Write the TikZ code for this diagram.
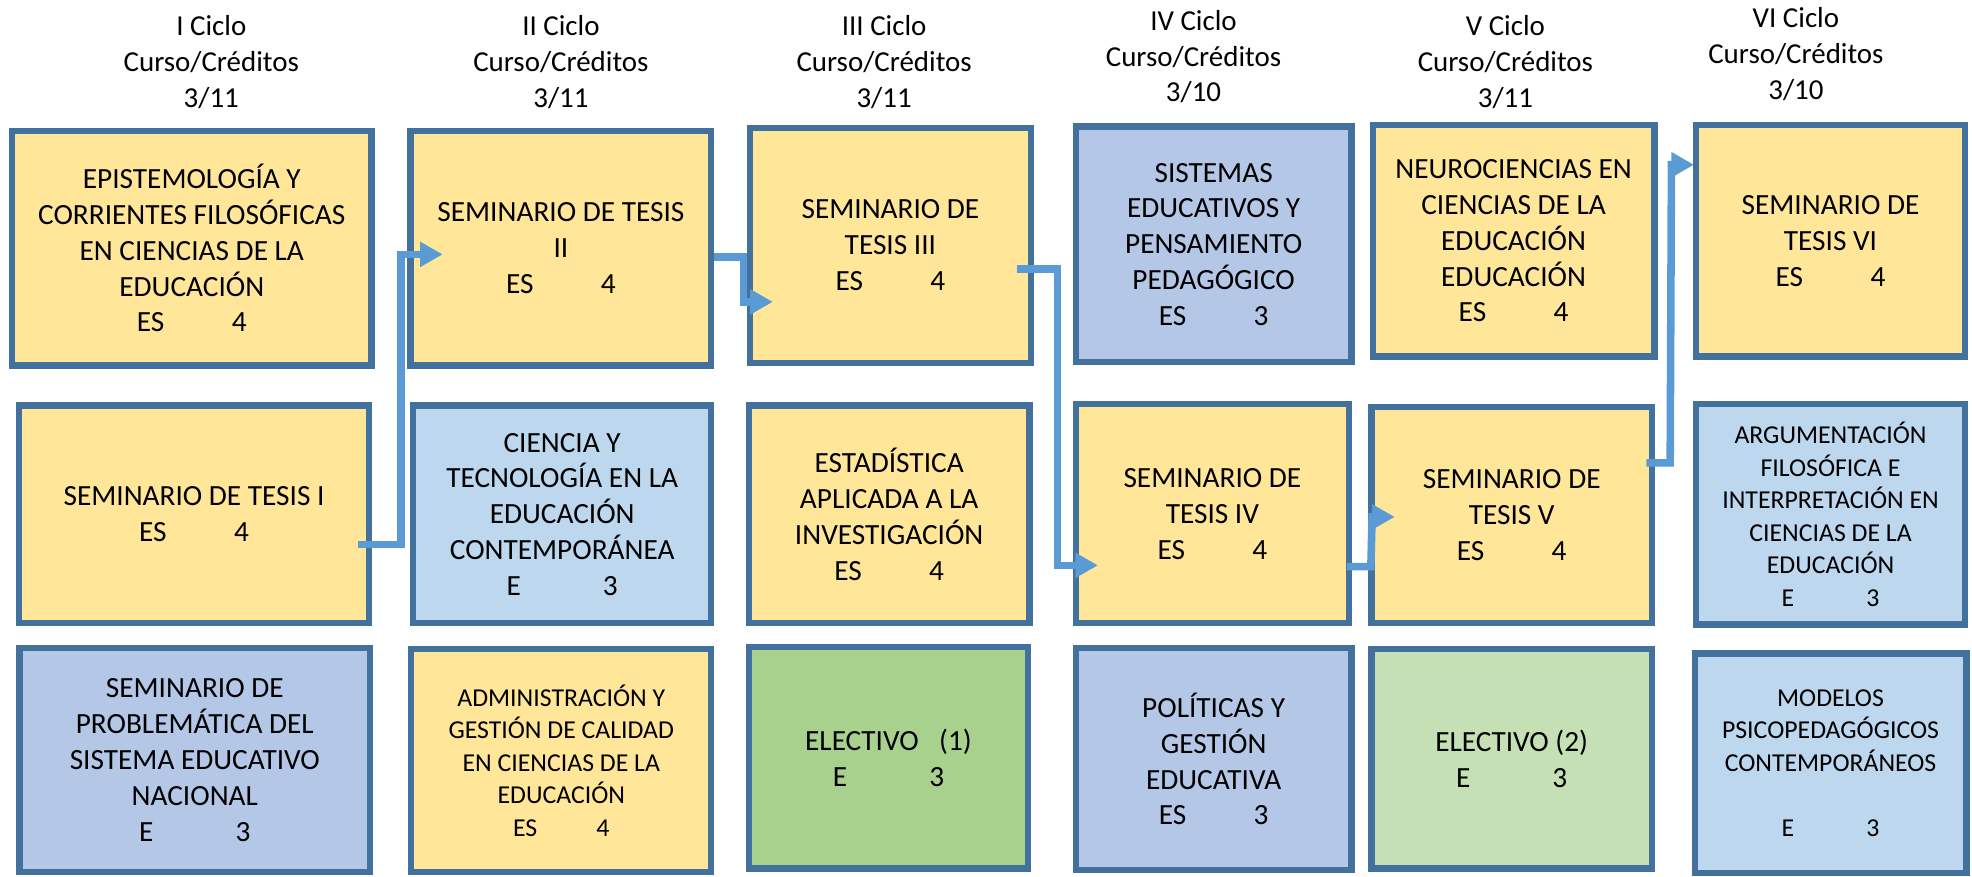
\documentclass[tikz,border=0pt]{standalone}
\usepackage{fontspec}
\setmainfont{Carlito}
\usetikzlibrary{arrows.meta}

\definecolor{borde}{HTML}{41719C}
\definecolor{amarillo}{HTML}{FFE699}
\definecolor{lavanda}{HTML}{B4C7E7}
\definecolor{celeste}{HTML}{BDD7EE}
\definecolor{verde}{HTML}{A9D18E}
\definecolor{verdeclaro}{HTML}{C5E0B4}
\definecolor{azulflecha}{HTML}{5B9BD5}

\tikzset{
  curso/.style={draw=borde, line width=5pt, rectangle, align=center, inner sep=0pt,
    font=\fontsize{23.3}{28.5}\selectfont},
  chico/.style={font=\fontsize{20.5}{25.8}\selectfont},
  tam/.style 2 args={minimum width=#1pt, minimum height=#2pt},
  ciclo/.style={align=center, font=\fontsize{23}{28.5}\selectfont},
  flecha/.style={draw=azulflecha, line width=6pt, -{Triangle[length=18pt,width=19pt]}},
}

\begin{document}
\begin{tikzpicture}[x=1pt,y=-1pt]
  \useasboundingbox (0,0) rectangle (1568,697);

  % Cycle headers
  \node[ciclo] (cicloI) at (168,49.5) {I Ciclo\\Curso/Créditos\\3/11};
  \node[ciclo] (cicloII) at (446,49.5) {II Ciclo\\Curso/Créditos\\3/11};
  \node[ciclo] (cicloIII) at (703,49.5) {III Ciclo\\Curso/Créditos\\3/11};
  \node[ciclo] (cicloIV) at (949,45) {IV Ciclo\\Curso/Créditos\\3/10};
  \node[ciclo] (cicloV) at (1197,49.5) {V Ciclo\\Curso/Créditos\\3/11};
  \node[ciclo] (cicloVI) at (1428,43) {VI Ciclo\\Curso/Créditos\\3/10};

  % Define nodes
  \node[curso, fill=amarillo, tam={286}{186.5}] (epist) at (152.5,197.25)
    {EPISTEMOLOGÍA Y\\CORRIENTES FILOSÓFICAS\\EN CIENCIAS DE LA\\EDUCACIÓN\\ES\hspace{2.3em}4};
  \node[curso, fill=amarillo, tam={278}{173}] (semI) at (154.3,409)
    {SEMINARIO DE TESIS I\\ES\hspace{2.3em}4};
  \node[curso, fill=lavanda, tam={279}{178}] (problem) at (154.9,604.5)
    {SEMINARIO DE\\PROBLEMÁTICA DEL\\SISTEMA EDUCATIVO\\NACIONAL\\E\hspace{2.8em}3};

  \node[curso, fill=amarillo, tam={239}{186.5}] (semII) at (446,197.25)
    {SEMINARIO DE TESIS\\II\\ES\hspace{2.3em}4};
  \node[curso, fill=celeste, tam={237}{173}] (ciencia) at (447,409)
    {CIENCIA Y\\TECNOLOGÍA EN LA\\EDUCACIÓN\\CONTEMPORÁNEA\\E\hspace{2.8em}3};
  \node[curso, chico, fill=amarillo, tam={238.5}{177.4}] (admin) at (446.3,604.8)
    {ADMINISTRACIÓN Y\\GESTIÓN DE CALIDAD\\EN CIENCIAS DE LA\\EDUCACIÓN\\ES\hspace{2.3em}4};

  \node[curso, fill=amarillo, tam={223}{187}] (semIII) at (708,195)
    {SEMINARIO DE\\TESIS III\\ES\hspace{2.3em}4};
  \node[curso, fill=amarillo, tam={223}{173}] (estad) at (707,409)
    {ESTADÍSTICA\\APLICADA A LA\\INVESTIGACIÓN\\ES\hspace{2.3em}4};
  \node[curso, fill=verde, tam={222}{176}] (elecI) at (706.5,602.5)
    {ELECTIVO\hspace{0.7em}(1)\\E\hspace{2.8em}3};

  \node[curso, fill=lavanda, tam={219}{187.5}] (sistemas) at (965,194.25)
    {SISTEMAS\\EDUCATIVOS Y\\PENSAMIENTO\\PEDAGÓGICO\\ES\hspace{2.3em}3};
  \node[curso, fill=amarillo, tam={217}{174}] (semIV) at (964,408.5)
    {SEMINARIO DE\\TESIS IV\\ES\hspace{2.3em}4};
  \node[curso, fill=lavanda, tam={219}{176}] (politicas) at (965,603.5)
    {POLÍTICAS Y\\GESTIÓN\\EDUCATIVA\\ES\hspace{2.3em}3};

  \node[curso, fill=amarillo, tam={224}{184}] (neuro) at (1203.5,191.5)
    {NEUROCIENCIAS EN\\CIENCIAS DE LA\\EDUCACIÓN\\EDUCACIÓN\\ES\hspace{2.3em}4};
  \node[curso, fill=amarillo, tam={223}{172}] (semV) at (1202,409.5)
    {SEMINARIO DE\\TESIS V\\ES\hspace{2.3em}4};
  \node[curso, fill=verdeclaro, tam={223}{174.4}] (elecII) at (1202,603.3)
    {ELECTIVO (2)\\E\hspace{2.8em}3};

  \node[curso, fill=amarillo, tam={214}{184}] (semVI) at (1455.5,191.5)
    {SEMINARIO DE\\TESIS VI\\ES\hspace{2.3em}4};
  \node[curso, chico, fill=celeste, tam={214}{175}] (argum) at (1455.5,409)
    {ARGUMENTACIÓN\\FILOSÓFICA E\\INTERPRETACIÓN EN\\CIENCIAS DE LA\\EDUCACIÓN\\E\hspace{2.8em}3};
  \node[curso, chico, fill=celeste, tam={216}{174.5}] (modelos) at (1455.5,606.75)
    {MODELOS\\PSICOPEDAGÓGICOS\\CONTEMPORÁNEOS\\ \\E\hspace{2.8em}3};

  % Connect the seminars
  \draw[flecha] ([xshift=-11pt,yshift=-24pt]semI.east) -- ++(34,0)
    |- ([xshift=28pt,yshift=-5pt]semII.west);
  \draw[flecha] ([yshift=-7pt]semII.east) -- ++(23,0)
    |- ([xshift=20.5pt,yshift=-45pt]semIII.west);
  \draw[flecha] ([xshift=-13pt,yshift=-19pt]semIII.east) -- ++(32,0)
    |- ([xshift=20pt,yshift=-41pt]semIV.west);
  \draw[flecha] ([xshift=-4pt,yshift=-42pt]semIV.east) -- ++(19,0)
    -- ([xshift=3pt,yshift=-1.5pt]semV.west) -- ([xshift=21pt,yshift=-1.5pt]semV.west);
  \draw[flecha] ([xshift=-7pt,yshift=41.5pt]semV.east) -- ++(19,0)
    -- ([xshift=-17pt,yshift=60.5pt]semVI.west) -- ([xshift=1pt,yshift=60.5pt]semVI.west);
\end{tikzpicture}
\end{document}
